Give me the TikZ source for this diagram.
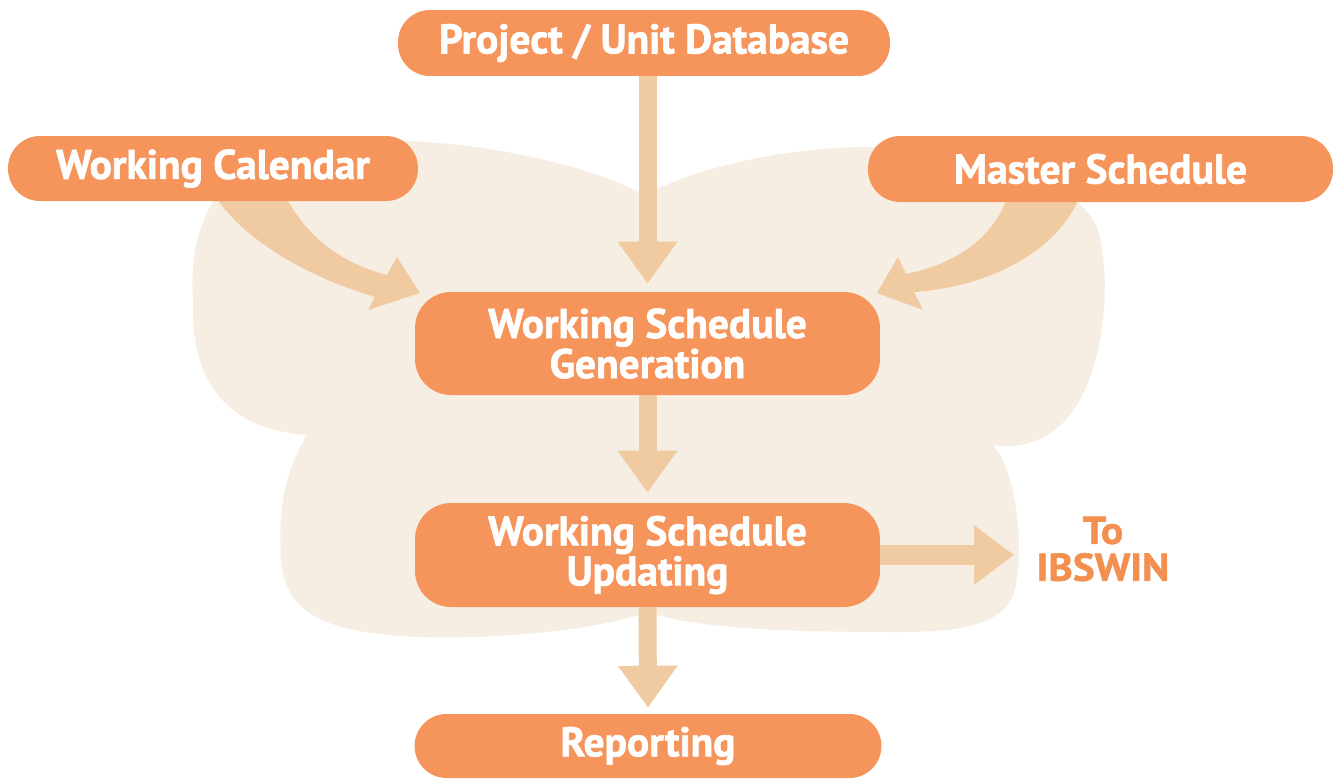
\documentclass[tikz,border=0pt]{standalone}
\usepackage{fontspec}
\setmainfont{PT Sans}[BoldFeatures={FakeBold=1.5}]
\newfontfamily\ibsfont{PT Sans}[FakeStretch=1.07, BoldFeatures={FakeBold=1.5}]
\usetikzlibrary{arrows.meta}
\definecolor{boxorange}{HTML}{F6955B}
\definecolor{ibsorange}{HTML}{F39050}
\definecolor{arrowtan}{HTML}{F0CAA0}
\definecolor{bgbeige}{HTML}{F6EEE2}
\pgfdeclarelayer{bg}
\pgfdeclarelayer{arr}
\pgfsetlayers{bg,arr,main}
\begin{document}
\begin{tikzpicture}[x=0.02cm,y=-0.02cm,
  stepbox/.style={fill=boxorange, inner sep=0pt, text=white, align=center,
    font=\bfseries\fontsize{23.6}{21.6}\selectfont},
  pill/.style={stepbox, rounded corners=0.64cm},
  bigbox/.style={stepbox, rounded corners=0.72cm},
  flow/.style={draw=arrowtan, line width=0.36cm, -{Triangle[width=1.14cm,length=0.84cm]}},
  bendarrow/.style={fill=arrowtan},
  lobe/.style={fill=bgbeige}]
\useasboundingbox (0,0) rectangle (1334,778);

% nodes
\node[pill, minimum width=9.84cm, minimum height=1.32cm] (db) at (644,43) {Project / Unit Database};
\node[pill, minimum width=8.2cm, minimum height=1.3cm] (cal) at (213,168.5) {Working Calendar};
\node[pill, minimum width=9.3cm, minimum height=1.32cm] (mas) at (1100.5,169) {Master Schedule};
\node[bigbox, minimum width=9.3cm, minimum height=2.06cm] (gen) at (647.5,343.5) {Working Schedule\\Generation};
\node[bigbox, minimum width=9.3cm, minimum height=2.08cm] (upd) at (647.5,555) {Working Schedule\\Updating};
\node[pill, minimum width=9.34cm, minimum height=1.28cm] (rep) at (648,746) {Reporting};
\node[text=ibsorange, align=center, inner sep=0pt,
  font=\ibsfont\bfseries\fontsize{22}{21}\selectfont] (ibs) at (1103,549) {To\\IBSWIN};
\coordinate (ibstip) at (1014,555);

% background butterfly
\begin{pgfonlayer}{bg}
\fill[lobe] (645,195)
  .. controls (700,165) and (800,145) .. (880,147)
  .. controls (980,150) and (1080,180) .. (1098,230)
  .. controls (1112,280) and (1105,370) .. (1070,415)
  .. controls (1050,440) and (1020,450) .. (993,445)
  .. controls (1015,470) and (1025,540) .. (1015,590)
  .. controls (1005,625) and (960,632) .. (900,632)
  .. controls (800,632) and (700,630) .. (648,612)
  .. controls (600,630) and (480,642) .. (400,636)
  .. controls (320,630) and (285,610) .. (281,560)
  .. controls (278,510) and (285,470) .. (307,435)
  .. controls (230,430) and (190,385) .. (193,300)
  .. controls (188,230) and (215,160) .. (300,145)
  .. controls (400,130) and (560,150) .. (645,195) -- cycle;
\end{pgfonlayer}

% connectors
\begin{pgfonlayer}{arr}
\draw[flow, shorten >=0.16cm] (gen.north |- db.south) -- (gen.north);
\draw[flow, shorten >=0.2cm] (gen.south) -- (upd.north);
\draw[flow, shorten >=0.12cm] (upd.south) -- (rep.north);
\draw[flow, line width=0.4cm, -{Triangle[width=1.14cm,length=0.8cm]}] (upd.east) -- (ibstip);
\fill[bendarrow] (215,195) .. controls (232,225) and (285,270) .. (375,297) -- (368,310) -- (420,293) -- (397,257) -- (387,275) .. controls (340,263) and (305,235) .. (285,195) -- cycle;
\fill[bendarrow] (1080,195) .. controls (1060,250) and (990,287) .. (914,292) -- (923,310) -- (877,293) -- (898,257) -- (906,274) .. controls (960,263) and (995,235) .. (1008,195) -- cycle;
\end{pgfonlayer}
\end{tikzpicture}
\end{document}
